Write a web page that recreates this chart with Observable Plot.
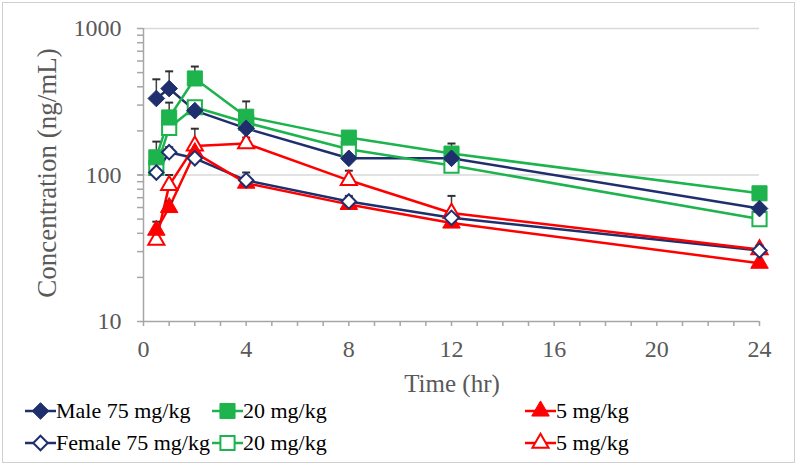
<!DOCTYPE html>
<html><head><meta charset="utf-8">
<script src="https://cdn.jsdelivr.net/npm/d3@7"></script>
<script src="https://cdn.jsdelivr.net/npm/@observablehq/plot@0.6"></script>
<style>
body{margin:0;background:#fff;}
#frame{position:absolute;left:2px;top:2px;width:793px;height:461px;border:1px solid #d0d0d0;box-sizing:border-box;}
#chart{position:absolute;left:0;top:0;}
.title{position:absolute;font-family:"Liberation Serif",serif;color:#595959;white-space:nowrap;line-height:1;}
#legend{position:absolute;left:0;top:0;font-family:"Liberation Serif",serif;font-size:22px;color:#000;}
.item{position:absolute;display:flex;align-items:center;white-space:nowrap;height:26px;}
.item svg{display:block;}
</style></head>
<body>
<div id="frame"></div>
<div id="chart"></div>
<div class="title" id="ytitle" style="font-size:27px">Concentration (ng/mL)</div>
<div class="title" id="xtitle" style="font-size:25px">Time (hr)</div>
<div id="legend"></div>
<script>
// ---- data ----
const times = [0.5, 1, 2, 4, 8, 12, 24];
const male75   = [333, 389, 275, 208, 130, 130, 59];
const male75Up = [450, 510, 300, 232, 145, 145, 62];
const female75   = [104, 143, 130, 92, 66, 51, 30.5];
const female75Up = [115, 155, 140, 104, 72, 56, 32];
const male20   = [132, 247, 456, 250, 180, 140, 75];
const male20Up = [169, 312, 550, 318, 195, 164, 80];
const female20   = [112, 210, 290, 228, 150, 116, 50];
const female20Up = [125, 240, 320, 240, 160, 125, 53];
const male5   = [42, 60, 142, 88, 63, 47, 25];
const male5Up = [48, 66, 160, 95, 68, 50, 26];
const female5   = [36, 85, 158, 164, 92, 55, 31];
const female5Up = [40, 100, 207, 180, 107, 72, 33];
const seriesNames = ["Male 75 mg/kg", "Female 75 mg/kg", "20 mg/kg", "20 mg/kg", "5 mg/kg", "5 mg/kg"];
const xTicks = [0, 4, 8, 12, 16, 20, 24];
const yTicks = [10, 100, 1000];

const navy = "#1f2f6e", green = "#1db34d", red = "#ff0000";
const series = [
  {name: seriesNames[0], color: navy,  symbol: "diamond2", filled: true,  r: 7.5, v: male75,   up: male75Up},
  {name: seriesNames[1], color: navy,  symbol: "diamond2", filled: false, r: 6.5, v: female75, up: female75Up},
  {name: seriesNames[2], color: green, symbol: "square",   filled: true,  r: 8.5, v: male20,   up: male20Up},
  {name: seriesNames[3], color: green, symbol: "square",   filled: false, r: 8,   v: female20, up: female20Up},
  {name: seriesNames[4], color: red,   symbol: "triangle", filled: true,  r: 6.5, v: male5,    up: male5Up},
  {name: seriesNames[5], color: red,   symbol: "triangle", filled: false, r: 6,   v: female5,  up: female5Up}
];
series.forEach(s => s.data = times.map((t, i) => ({t, v: s.v[i], up: s.up[i]})));

const cap = {draw(ctx) { ctx.moveTo(-4, 0); ctx.lineTo(4, 0); }};
const drawOrder = [5, 4, 3, 2, 0, 1];

const minorY = [];
for (const d of [10, 100]) for (let k = 1; k <= 10; k++) minorY.push(d * k);

const chart = Plot.plot({
  width: 800, height: 392,
  marginLeft: 143, marginRight: 41, marginTop: 28, marginBottom: 71,
  style: {fontFamily: "'Liberation Serif', serif", background: "transparent", overflow: "visible"},
  x: {domain: [0, 24]},
  y: {type: "log", domain: [10, 1000]},
  marks: [
    Plot.ruleY([100, 1000], {stroke: "#d9d9d9", strokeWidth: 1.3}),
    Plot.ruleX([0], {stroke: "#a6a6a6", strokeWidth: 1.5}),
    Plot.ruleY([10], {stroke: "#a6a6a6", strokeWidth: 1.5}),
    Plot.axisX({ticks: d3.range(0, 25), tickFormat: () => "", tickSize: 5, stroke: "#a6a6a6", strokeWidth: 1.5, label: null}),
    Plot.axisX({ticks: xTicks, tickSize: 0, tickPadding: 18, fontSize: 24, fill: "#595959", label: null}),
    Plot.axisY({ticks: minorY, tickFormat: () => "", tickSize: 6, stroke: "#a6a6a6", strokeWidth: 1.5, label: null}),
    Plot.axisY({ticks: yTicks, tickFormat: d => String(d), tickSize: 0, tickPadding: 22, fontSize: 24, fill: "#595959", label: null}),
    ...series.map(s => Plot.line(s.data, {x: "t", y: "v", stroke: s.color, strokeWidth: 2.5})),
    ...series.map(s => Plot.ruleX(s.data, {x: "t", y1: "v", y2: "up", stroke: "#404040", strokeWidth: 1.5})),
    ...series.map(s => Plot.dot(s.data, {x: "t", y: "up", symbol: cap, r: 3, stroke: "#303030", strokeWidth: 2})),
    ...drawOrder.map(i => {
      const s = series[i];
      return Plot.dot(s.data, {x: "t", y: "v", symbol: s.symbol, r: s.r,
        fill: s.filled ? s.color : "white", stroke: s.color, strokeWidth: s.filled ? 1 : 2});
    })
  ]
});
document.getElementById("chart").appendChild(chart);

// axis titles
const yt = document.getElementById("ytitle");
yt.style.left = "47px"; yt.style.top = "173px";
yt.style.transform = "translate(-50%,-50%) rotate(-90deg)";
const xt = document.getElementById("xtitle");
xt.style.left = "452px"; xt.style.top = "383px";
xt.style.transform = "translate(-50%,-50%)";

// legend
const legend = document.getElementById("legend");
const cols = [25, 212, 525];
const rows = [411, 443];
const symMap = {diamond2: d3.symbolDiamond2, square: d3.symbolSquare, triangle: d3.symbolTriangle};
series.forEach((s, i) => {
  const col = Math.floor(i / 2), row = i % 2;
  const item = document.createElement("div");
  item.className = "item";
  item.style.left = cols[col] + "px";
  item.style.top = (rows[row] - 13) + "px";
  const svg = d3.create("svg").attr("width", 31).attr("height", 26);
  svg.append("line").attr("x1", 0).attr("x2", 31).attr("y1", 13).attr("y2", 13)
    .attr("stroke", s.color).attr("stroke-width", 2.5);
  svg.append("path").attr("transform", "translate(15.5,13)")
    .attr("d", d3.symbol(symMap[s.symbol], Math.PI * s.r * s.r)())
    .attr("fill", s.filled ? s.color : "white").attr("stroke", s.color).attr("stroke-width", s.filled ? 1 : 2);
  item.appendChild(svg.node());
  const label = document.createElement("span");
  label.textContent = s.name;
  item.appendChild(label);
  legend.appendChild(item);
});
</script>
</body></html>
